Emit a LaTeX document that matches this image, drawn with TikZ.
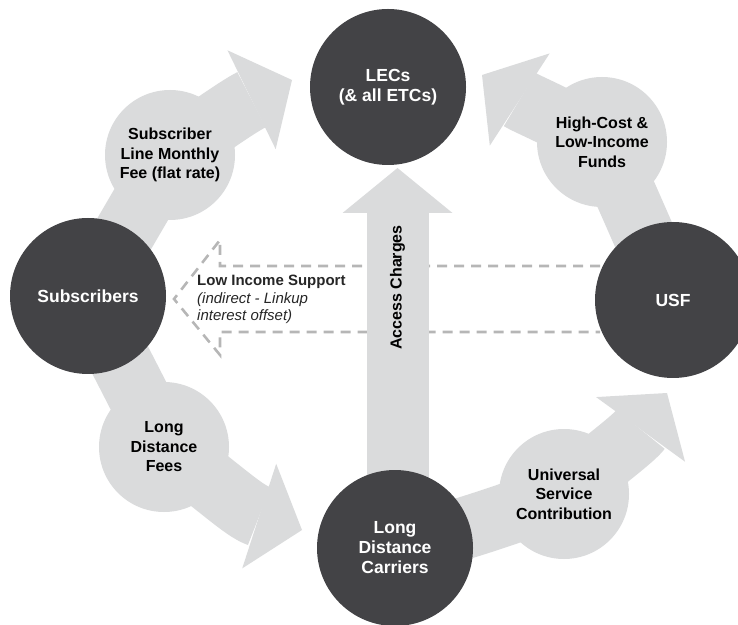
\documentclass[tikz,border=0pt]{standalone}
\usepackage{fontspec}
\setmainfont{Liberation Sans}
\usetikzlibrary{arrows.meta,backgrounds}
\definecolor{flowgrey}{RGB}{218,219,220}
\definecolor{hubgrey}{RGB}{67,67,70}
\definecolor{dashgrey}{RGB}{182,182,182}

\begin{document}
\begin{tikzpicture}[x=1pt,y=1pt,
  hub/.style={circle,fill=hubgrey,minimum size=156pt,inner sep=0pt,text=white,align=center,font=\bfseries\fontsize{17.5}{20}\selectfont},
  bubble/.style={circle,fill=flowgrey,minimum size=130pt,inner sep=0pt,align=center,font=\bfseries\fontsize{16}{19.5}\selectfont},
  flow/.style={draw=flowgrey,line width=62pt,line join=round,-{Triangle[width=110pt,length=45pt,line width=0pt]}},
  lowdash/.style={draw=dashgrey,line width=2.6pt,dash pattern=on 10pt off 7pt}]
\useasboundingbox (0,0) rectangle (738,624);

% main players
\node[hub] (lec) at (388,537) {LECs\\(\& all ETCs)};
\node[hub] (sub) at (88,328) {Subscribers};
\node[hub] (usf) at (673,324) {USF};
\node[hub] (ldc) at (395,76) {Long\\Distance\\Carriers};

% what flows between them
\node[bubble] (slf) at (170,469) {Subscriber\\Line Monthly\\Fee (flat rate)};
\node[bubble] (hcf) at (602,482) {High-Cost \&\\Low-Income\\Funds};
\node[bubble] (ldf) at (164,177) {Long\\Distance\\Fees};
\node[bubble] (usc) at (564,130) {Universal\\Service\\Contribution};

\node[font=\bfseries\fontsize{16}{19}\selectfont,rotate=90] (acc) at (397.5,336.5) {Access Charges};
\node[anchor=west,inner sep=0pt,align=left,text=black!85,font=\fontsize{15}{17.5}\selectfont] (lowinc) at (197,324.5)
  {\textbf{Low Income Support}\\\textit{(indirect - Linkup}\\\textit{interest offset)}};

% arrow ends
\coordinate (slftip) at (292,544);
\coordinate (hcftip) at (482,549);
\coordinate (ldftip) at (302,94);
\coordinate (usctip) at (667,231);
\coordinate (acctip) at (397.5,456);
\coordinate (dashtop) at (600,358);
\coordinate (dashbot) at (600,292);

\begin{scope}[on background layer]
% low income support (dashed, hollow)
\draw[lowdash] (dashtop) -- (220,358) -- (220,384) -- (174,325) -- (220,269) -- (220,292) -- (dashbot);

% big grey arrows
\draw[flow] (sub.center) to[out=60,in=240] (slf.center) to[out=36,in=206] (slftip);
\draw[flow] (usf.center) to[out=115,in=-65] (hcf.center) to[out=150,in=-33] (hcftip);
\draw[flow] (sub.center) to[out=-64,in=116] (ldf.center) to[out=-35,in=162] (ldftip);
\draw[flow] (ldc.center) to[out=15,in=200] (usc.center) to[out=40,in=234] (usctip);
\draw[flow] (ldc.center -| acctip) -- (acctip);
\end{scope}
\end{tikzpicture}
\end{document}
